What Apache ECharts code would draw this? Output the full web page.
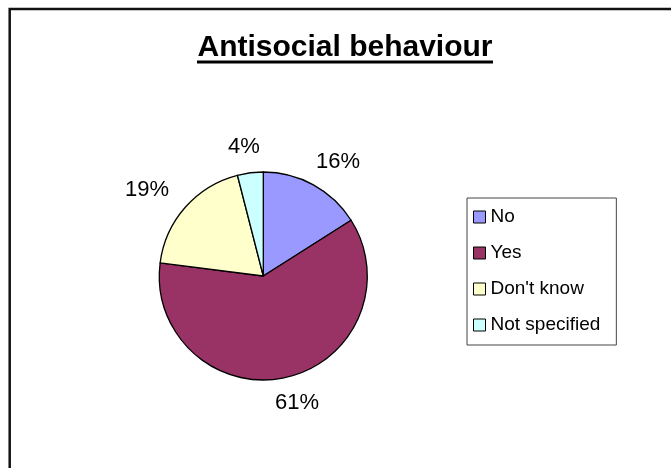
<!DOCTYPE html>
<html>
<head>
<meta charset="utf-8">
<script src="https://cdn.jsdelivr.net/npm/echarts@6/dist/echarts.min.js"></script>
<style>
html,body{margin:0;padding:0;background:#fff;}
#chart{width:671px;height:468px;}
</style>
</head>
<body>
<div id="chart"></div>
<script>
var titleText = 'Antisocial behaviour';
var categories = ['No', 'Yes', "Don't know", 'Not specified'];
var values = [16, 61, 19, 4];
var colors = ['#9999FF', '#993366', '#FFFFCC', '#CCFFFF'];

var FONT = 'Arial, "Liberation Sans", sans-serif';
var chart = echarts.init(document.getElementById('chart'), null, {renderer: 'canvas'});

var option = {
  backgroundColor: '#ffffff',
  animation: false,
  color: colors,
  graphic: [
    {type: 'rect', shape: {x: 9.7, y: 9, width: 720, height: 520},
     style: {fill: 'none', stroke: '#111', lineWidth: 2.5}, silent: true},
    {type: 'text', x: 345, y: 47.5,
     style: {text: titleText, fontFamily: FONT, fontWeight: 'bold', fontSize: 30,
             fill: '#000', align: 'center', verticalAlign: 'middle'}},
    {type: 'rect', shape: {x: 197, y: 60.5, width: 296, height: 3},
     style: {fill: '#000'}, silent: true}
  ],
  legend: {
    orient: 'vertical',
    left: 467,
    top: 198,
    padding: [9, 16, 10, 6],
    borderColor: '#444',
    borderWidth: 1,
    itemWidth: 12,
    itemHeight: 12,
    itemGap: 16,
    icon: 'rect',
    selectedMode: false,
    itemStyle: {borderColor: '#000', borderWidth: 1},
    textStyle: {fontFamily: FONT, fontSize: 19, color: '#000', lineHeight: 20},
    data: categories
  },
  series: [{
    type: 'pie',
    center: [263.3, 276],
    radius: 104,
    startAngle: 90,
    clockwise: true,
    avoidLabelOverlap: false,
    silent: true,
    emphasis: {disabled: true},
    itemStyle: {borderColor: '#000', borderWidth: 1.3},
    label: {
      show: true,
      position: 'outside',
      formatter: '{c}%',
      fontFamily: FONT,
      fontSize: 22,
      color: '#000'
    },
    labelLine: {show: true, length: 26, length2: 0, lineStyle: {opacity: 0}},
    labelLayout: function (p) {
      var pts = p.labelLinePoints;
      if (!pts || pts.length < 2) { return {}; }
      var ux = pts[1][0] - pts[0][0], uy = pts[1][1] - pts[0][1];
      var n = Math.sqrt(ux * ux + uy * uy) || 1;
      ux /= n; uy /= n;
      return {x: pts[1][0] + ux * 25, y: pts[1][1], align: 'center', verticalAlign: 'middle'};
    },
    data: categories.map(function (c, i) { return {name: c, value: values[i]}; })
  }]
};
chart.setOption(option);
</script>
</body>
</html>
